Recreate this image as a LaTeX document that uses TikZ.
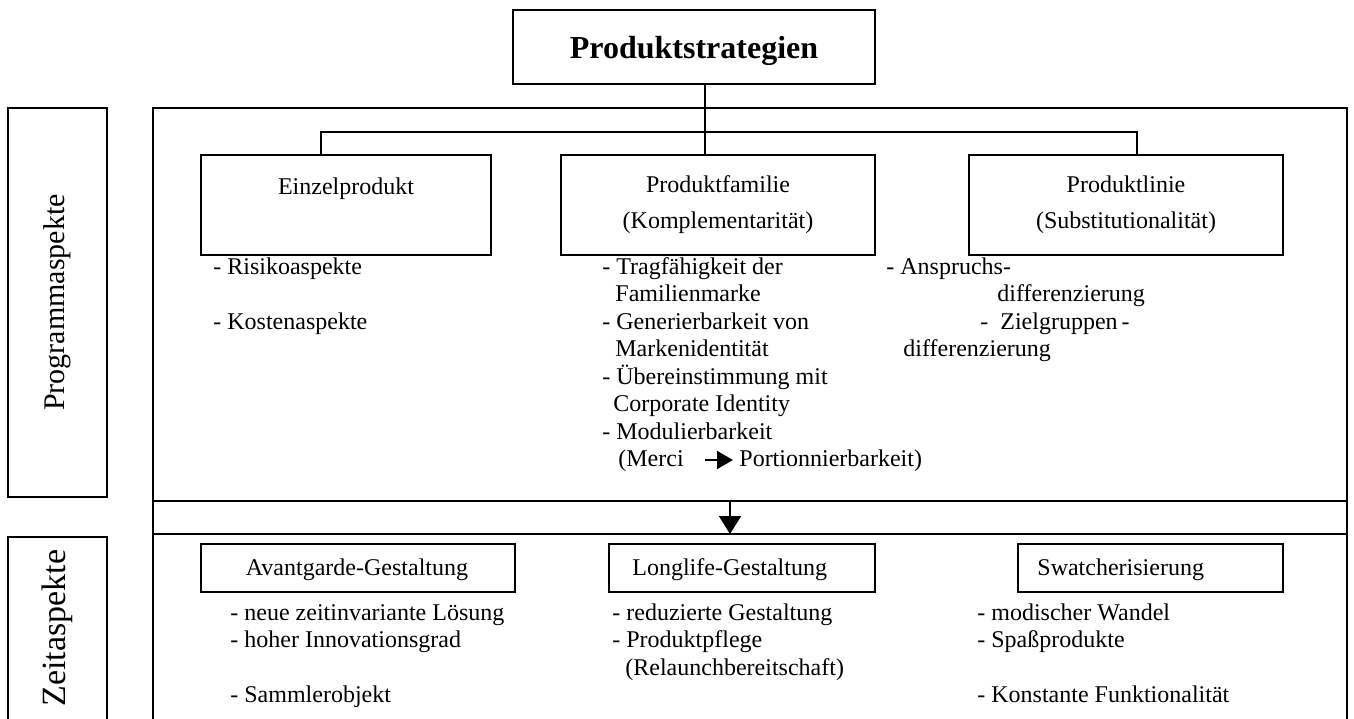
\documentclass[tikz,border=0pt]{standalone}
\usepackage{fontspec}
\setmainfont{Liberation Serif}
\usetikzlibrary{arrows.meta,calc}
\begin{document}
\begin{tikzpicture}[x=0.5pt,y=-0.5pt,
  lw/.style={line width=0.9pt},
  boxnode/.style={draw,lw,inner sep=0pt},
  txt/.style={anchor=base west,inner sep=0pt,font=\fontsize{12}{13.75}\selectfont},
  ctxt/.style={anchor=base,inner sep=0pt,font=\fontsize{12}{13.75}\selectfont},
  sidelabel/.style={rotate=90,inner sep=0pt,font=\fontsize{15}{17}\selectfont}]
\useasboundingbox (0,0) rectangle (1354,718);
\clip (0,0) rectangle (1354,718);
% side boxes
\node[boxnode,minimum width=49.5pt,minimum height=194.5pt] (pbox) at (57.5,302.5) {};
\node[sidelabel] (plab) at (pbox.center) {Programmaspekte};
\draw[lw] (8,760) -- (8,537) -- (107,537) -- (107,760);
\node[sidelabel,font=\fontsize{17}{19}\selectfont] (zlab) at (57.5,628) {Zeitaspekte};
% outer frame
\draw[lw] (153,760) -- (153,108) -- (1347,108) -- (1347,760);
\coordinate (l1w) at (153,501); \coordinate (l1e) at (1347,501);
\coordinate (l2w) at (153,534); \coordinate (l2e) at (1347,534);
\draw[lw] (l1w) -- (l1e);
\draw[lw] (l2w) -- (l2e);
% title
\node[boxnode,minimum width=181pt,minimum height=37pt] (top) at (694,47) {};
\node[anchor=base,inner sep=0pt,font=\fontsize{16}{18}\selectfont\bfseries] (title) at (694,58) {Produktstrategien};
% programme boxes
\node[boxnode,minimum width=145pt,minimum height=50pt] (ein) at (346,205) {};
\node[boxnode,minimum width=157pt,minimum height=50pt] (fam) at (718,205) {};
\node[boxnode,minimum width=157pt,minimum height=50pt] (lin) at (1126,205) {};
\node[ctxt] (eint) at (346,194) {Einzelprodukt};
\node[ctxt] (famt1) at (718,192) {Produktfamilie};
\node[ctxt] (famt2) at (718,228) {(Komplementarität)};
\node[ctxt] (lint1) at (1126,192) {Produktlinie};
\node[ctxt] (lint2) at (1126,228) {(Substitutionalität)};
% connectors
\coordinate (j) at (705,132);
\coordinate (bl) at (321,132);
\coordinate (br) at (1137,132);
\draw[lw] (top.south -| j) -- (fam.north -| j);
\draw[lw] (ein.north -| bl) -- (bl) -- (br) -- (lin.north -| br);
\coordinate (a1) at (730,501);
\coordinate (a2) at (730,534);
\draw[lw,-{Triangle[length=9pt,width=11pt]}] (a1) -- (a2);
% lists under programme boxes
\node[txt] (r1) at (213,274) {- Risikoaspekte};
\node[txt] (r2) at (213,329) {- Kostenaspekte};
\node[txt] (f0) at (602,274) {- Tragfähigkeit der};
\node[txt] (f1) at (615,301.5) {Familienmarke};
\node[txt] (f2) at (602,329) {- Generierbarkeit von};
\node[txt] (f3) at (615,356.5) {Markenidentität};
\node[txt] (f4) at (602,384) {- Übereinstimmung mit};
\node[txt] (f5) at (613,411.5) {Corporate Identity};
\node[txt] (f6) at (602,439) {- Modulierbarkeit};
\node[txt] (f7) at (618,466.5) {(Merci};
\node[txt] (f8) at (739,466.5) {Portionnierbarkeit)};
\coordinate (m1) at (705,460);
\coordinate (m2) at (733,460);
\draw[lw,-{Triangle[length=8pt,width=9pt]}] (m1) -- (m2);
\node[txt] (s0) at (886,274) {- Anspruchs-};
\node[txt] (s1) at (997,301.5) {differenzierung};
\node[txt] (s2) at (980,329) {-\ \ Zielgruppen\,-};
\node[txt] (s3) at (903,356.5) {differenzierung};
% time boxes
\node[boxnode,minimum width=157pt,minimum height=24pt] (ava) at (358,568) {};
\node[boxnode,minimum width=133pt,minimum height=24pt] (lon) at (742,568) {};
\node[boxnode,minimum width=132.5pt,minimum height=24pt] (swa) at (1150.5,568) {};
\node[ctxt] (avat) at (357,575) {Avantgarde-Gestaltung};
\node[txt] (lont) at (632,575) {Longlife-Gestaltung};
\node[txt] (swat) at (1037,575) {Swatcherisierung};
% time lists
\node[txt] (v0) at (230,620) {- neue zeitinvariante Lösung};
\node[txt] (v1) at (230,647.5) {- hoher Innovationsgrad};
\node[txt] (v3) at (230,702.5) {- Sammlerobjekt};
\node[txt] (o0) at (612,620) {- reduzierte Gestaltung};
\node[txt] (o1) at (612,647.5) {- Produktpflege};
\node[txt] (o2) at (625,675) {(Relaunchbereitschaft)};
\node[txt] (w0) at (977,620) {- modischer Wandel};
\node[txt] (w1) at (977,647.5) {- Spaßprodukte};
\node[txt] (w3) at (977,702.5) {- Konstante Funktionalität};
\end{tikzpicture}
\end{document}
